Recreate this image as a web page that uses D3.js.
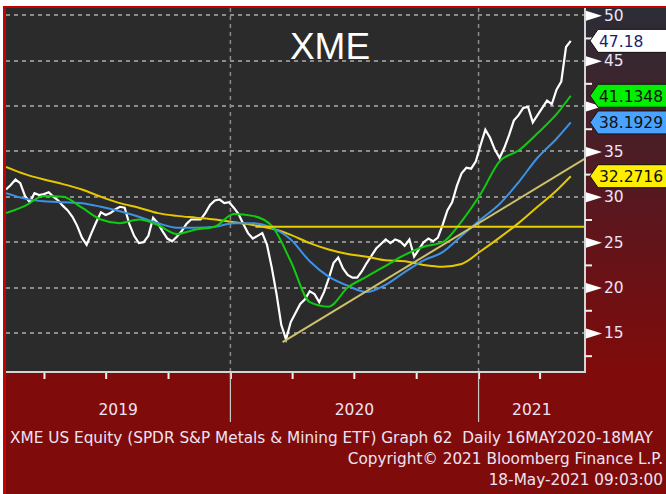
<!DOCTYPE html>
<html>
<head>
<meta charset="utf-8">
<script src="https://cdn.jsdelivr.net/npm/d3@7"></script>
<style>
  html, body { margin: 0; padding: 0; background: #fff; }
  svg { display: block; }
</style>
</head>
<body>
<svg id="chart"></svg>
<script>
// weekly closes, Mondays from 4 Feb 2019 to 17 May 2021
var price = [30.8, 31.3, 31.9, 31.5, 30.1, 29.4, 30.4, 30.2, 30.3, 30.5,
             30.0, 29.6, 29.0, 28.5, 27.8, 26.8, 25.5, 24.7, 26.0, 27.2,
             28.3, 28.0, 28.2, 28.6, 28.9, 28.8, 27.0, 25.7, 24.9, 25.0,
             25.7, 27.7, 27.1, 26.2, 25.4, 25.1, 25.6, 26.2, 27.0, 27.5,
             27.5, 27.5, 28.2, 29.1, 29.6, 29.7, 29.3, 29.4, 28.8, 28.1,
             27.0, 26.0, 25.4, 25.7, 26.0, 24.7, 22.2, 19.3, 15.9, 14.3,
             16.2, 17.2, 18.2, 18.7, 19.6, 19.3, 18.4, 19.5, 21.0, 22.7,
             23.3, 22.1, 21.4, 21.1, 21.1, 21.8, 22.7, 23.5, 24.3, 24.8,
             25.3, 24.9, 25.3, 25.1, 24.6, 25.3, 23.4, 24.2, 25.0, 25.4,
             25.1, 25.5, 26.9, 28.5, 29.4, 31.2, 32.6, 33.2, 33.1, 33.9,
             35.7, 37.4, 36.5, 35.2, 34.3, 35.4, 36.8, 38.4, 39.0, 39.8,
             39.9, 38.2, 39.0, 39.8, 40.6, 40.2, 41.8, 42.7, 46.5, 47.18];

// moving averages read every 4th week (index into the weekly dates)
var maWeeks = [0, 4, 8, 12, 16, 20, 24, 28, 32, 36, 40, 44, 48, 52, 56, 60,
               64, 68, 72, 76, 80, 84, 88, 92, 96, 100, 104, 108, 112, 116, 119];
var sma50 = [28.2, 29.0, 30.1, 30.0, 28.8, 27.5, 27.1, 27.5, 26.9, 25.9, 26.4,
             26.7, 28.1, 27.9, 26.8, 22.9, 18.4, 17.9, 20.0, 21.2, 22.4, 23.6,
             24.5, 25.0, 27.3, 30.3, 33.9, 35.1, 37.0, 39.1, 41.1348];
var sma100 = [30.4, 29.8, 29.5, 29.4, 29.3, 28.9, 28.4, 27.8, 27.1, 26.6, 26.6,
              26.7, 27.1, 27.1, 26.6, 25.3, 22.9, 21.2, 20.2, 19.5, 20.3, 21.7,
              23.0, 23.9, 25.7, 27.5, 29.2, 31.6, 34.3, 36.4, 38.1929];
var sma200 = [33.3, 32.5, 31.9, 31.4, 30.8, 30.0, 29.3, 28.8, 28.2, 27.9, 27.7,
              27.5, 27.2, 26.9, 26.5, 25.8, 24.9, 24.2, 23.7, 23.4, 23.0, 22.9,
              22.5, 22.3, 22.6, 24.0, 25.5, 27.1, 28.9, 30.7, 32.2716];

var levelLine = [["2020-02-07", 26.7], ["2021-06-07", 26.7]];
var trendLine = [["2020-03-18", 14.0], ["2021-06-07", 34.2]];

var yTicks = [15, 20, 25, 30, 35, 40, 45, 50];
var yMinor = [12.5, 17.5, 22.5, 27.5, 32.5, 37.5, 42.5, 47.5];
var yearLabels = ["2019", "2020", "2021"];
var tagValues = [47.18, 41.1348, 38.1929, 32.2716];
var tagLabels = ["47.18", "41.1348", "38.1929", "32.2716"];

// first line is shown as far as the picture edge lets it run
var footer = [
  "XME US Equity (SPDR S&P Metals & Mining ETF) Graph 62\u00a0 Daily 16MAY2020-18MAY",
  "Copyright\u00a9 2021 Bloomberg Finance L.P.",
  "18-May-2021 09:03:00"
];

const W = 666, H = 494;
const plot = { left: 6, right: 585, top: 8, bottom: 372 };
const txt = "#ece4f4";
const font = "DejaVu Sans";

var parse = d3.timeParse("%Y-%m-%d");
var weeks = d3.timeMonday.range(new Date(2019, 1, 4), new Date(2021, 4, 18));

var x = d3.scaleTime()
    .domain([new Date(2019, 1, 4), new Date(2021, 5, 7)])
    .range([plot.left, plot.right]);

var y = d3.scaleLinear()
    .domain([10.7, 50.8])
    .range([plot.bottom, plot.top]);

var svg = d3.select("#chart").attr("width", W).attr("height", H);
var defs = svg.append("defs");

var grad = defs.append("linearGradient")
    .attr("id", "axisBg").attr("x1", 0).attr("y1", 0).attr("x2", 0).attr("y2", 1);
grad.append("stop").attr("offset", "0%").attr("stop-color", "#2b2d37");
grad.append("stop").attr("offset", "50%").attr("stop-color", "#561820");
grad.append("stop").attr("offset", "100%").attr("stop-color", "#800b0b");

defs.append("clipPath").attr("id", "plotClip")
  .append("rect")
    .attr("x", plot.left).attr("y", plot.top)
    .attr("width", plot.right - plot.left).attr("height", plot.bottom - plot.top);

// backgrounds
svg.append("rect").attr("width", W).attr("height", H).attr("fill", "#fff");
svg.append("rect").attr("x", 3).attr("y", 6).attr("width", W - 3).attr("height", H - 6).attr("fill", "#c40000");
svg.append("rect").attr("x", plot.left).attr("y", plot.top)
    .attr("width", W - plot.left).attr("height", H - plot.top).attr("fill", "#800b0b");
svg.append("rect").attr("x", plot.right).attr("y", plot.top)
    .attr("width", W - plot.right).attr("height", plot.bottom - plot.top).attr("fill", "url(#axisBg)");
svg.append("rect").attr("x", plot.left).attr("y", plot.top)
    .attr("width", plot.right - plot.left).attr("height", plot.bottom - plot.top).attr("fill", "#2b2b2b");

// grid
var grid = svg.append("g").attr("stroke", "#8c8c8c").attr("stroke-width", 2).attr("stroke-dasharray", "4,4");
grid.selectAll("line.h").data(yTicks).enter().append("line")
    .attr("x1", plot.left).attr("x2", plot.right)
    .attr("y1", d => Math.round(y(d))).attr("y2", d => Math.round(y(d)));
var years = d3.timeYear.range(x.domain()[0], x.domain()[1]);
grid.selectAll("line.v").data(years).enter().append("line")
    .attr("stroke-width", 1.5)
    .attr("x1", d => x(d)).attr("x2", d => x(d))
    .attr("y1", plot.top).attr("y2", plot.bottom);

// series
var g = svg.append("g").attr("clip-path", "url(#plotClip)");

var priceLine = d3.line()
    .x((d, i) => x(weeks[i]))
    .y(d => y(d));

var maLine = d3.line()
    .x((d, i) => x(weeks[maWeeks[i]]))
    .y(d => y(d))
    .curve(d3.curveMonotoneX);

var straight = d3.line()
    .x(d => x(parse(d[0])))
    .y(d => y(d[1]));

g.append("path").datum(price)
    .attr("d", priceLine)
    .attr("fill", "none").attr("stroke", "#ffffff").attr("stroke-width", 2.2)
    .attr("stroke-linejoin", "miter");

g.append("path").datum(sma200).attr("d", maLine)
    .attr("fill", "none").attr("stroke", "#e6c800").attr("stroke-width", 2);
g.append("path").datum(sma100).attr("d", maLine)
    .attr("fill", "none").attr("stroke", "#3d92e6").attr("stroke-width", 2);
g.append("path").datum(sma50).attr("d", maLine)
    .attr("fill", "none").attr("stroke", "#10cc10").attr("stroke-width", 2);
g.append("path").datum(levelLine).attr("d", straight)
    .attr("fill", "none").attr("stroke", "#e8cf00").attr("stroke-width", 2);
g.append("path").datum(trendLine).attr("d", straight)
    .attr("fill", "none").attr("stroke", "#cfc06a").attr("stroke-width", 2);

// title
svg.append("text")
    .attr("x", 330).attr("y", 59)
    .attr("text-anchor", "middle")
    .attr("font-family", "Liberation Sans")
    .attr("font-size", 37)
    .attr("fill", "#ffffff")
    .text("XME");

// bottom axis: quarter ticks
var quarters = d3.timeMonth.every(3).range(x.domain()[0], x.domain()[1]);
var xAxis = d3.axisBottom(x).tickValues(quarters).tickSize(7).tickFormat("");
var gx = svg.append("g").attr("transform", "translate(0," + plot.bottom + ")").call(xAxis);
gx.select(".domain").remove();
gx.selectAll(".tick line").attr("stroke", "#f0f0f0").attr("stroke-width", 2);

// year separators and labels
svg.selectAll("line.sep").data(years).enter().append("line")
    .attr("x1", d => x(d)).attr("x2", d => x(d))
    .attr("y1", plot.bottom).attr("y2", 422)
    .attr("stroke", "#c8c8c8").attr("stroke-width", 1.2);

var yearStarts = yearLabels.map(s => new Date(+s, 0, 1));
svg.selectAll("text.year").data(yearLabels).enter().append("text")
    .attr("x", (d, i) => {
      var a = Math.max(x(yearStarts[i]), plot.left);
      var b = Math.min(x(new Date(+d + 1, 0, 1)), plot.right);
      return (a + b) / 2;
    })
    .attr("y", 415)
    .attr("text-anchor", "middle")
    .attr("font-family", font).attr("font-size", 15.5)
    .attr("fill", txt)
    .text(d => d);

// plot frame
svg.append("path")
    .attr("d", "M" + plot.left + "," + plot.bottom + "H" + plot.right + "V" + plot.top)
    .attr("fill", "none").attr("stroke", "#d4d4d4").attr("stroke-width", 2);

// right axis
var gyMinor = svg.append("g").attr("transform", "translate(" + plot.right + ",0)")
    .call(d3.axisRight(y).tickValues(yMinor).tickSize(7).tickFormat(""));
gyMinor.select(".domain").remove();
gyMinor.selectAll(".tick line").attr("stroke", "#f0f0f0").attr("stroke-width", 2);

// the 40 label sits under the green value tag, so it is left blank
var gy = svg.append("g").attr("transform", "translate(" + plot.right + ",0)")
    .call(d3.axisRight(y).tickValues(yTicks).tickSize(0).tickPadding(19)
      .tickFormat(d => d === 40 ? "" : d3.format("d")(d)));
gy.select(".domain").remove();
gy.selectAll(".tick text")
    .attr("font-family", font).attr("font-size", 15.5)
    .attr("fill", txt);
gy.selectAll(".tick").append("path")
    .attr("d", "M1,-5L1,5L17,0Z")
    .attr("fill", "#ffffff");

// last value tags
var tagFill = ["#ffffff", "#00f000", "#4aa4ff", "#ffee00"];
var tagText = ["#1c1c70", "#101010", "#101010", "#101010"];
var tags = svg.selectAll("g.tag").data(tagValues).enter().append("g")
    .attr("transform", d => "translate(0," + y(d) + ")");
tags.append("path")
    .attr("d", "M590,0L598,-11.5L668,-11.5L668,11.5L598,11.5Z")
    .attr("fill", (d, i) => tagFill[i])
    .attr("stroke", "#111").attr("stroke-width", 1);
tags.append("text")
    .attr("x", 599).attr("y", 6)
    .attr("font-family", font).attr("font-size", 15.5)
    .attr("fill", (d, i) => tagText[i])
    .text((d, i) => tagLabels[i]);

// footer
var ft = svg.append("g").attr("font-family", font).attr("font-size", 15.3).attr("fill", txt);
ft.append("text").attr("x", 10).attr("y", 443).text(footer[0]);
ft.append("text").attr("x", 663).attr("y", 464).attr("text-anchor", "end").text(footer[1]);
ft.append("text").attr("x", 663).attr("y", 485).attr("text-anchor", "end").text(footer[2]);
</script>
</body>
</html>
